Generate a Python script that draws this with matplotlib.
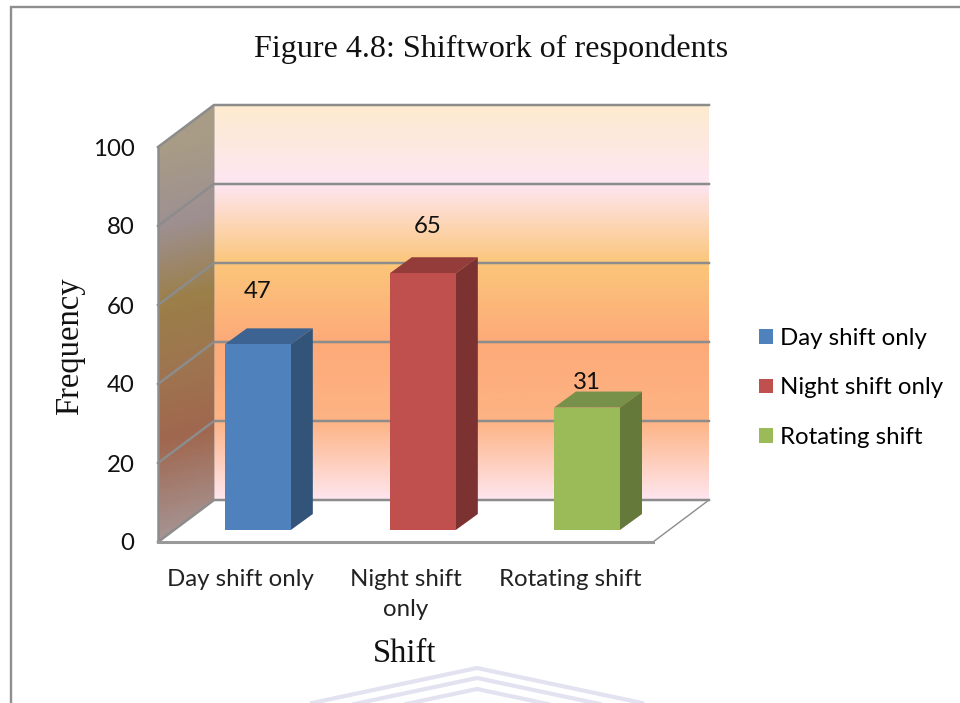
import numpy as np
import matplotlib
matplotlib.use('Agg')
import matplotlib.pyplot as plt
from matplotlib.colors import LinearSegmentedColormap
from matplotlib.patches import Polygon
from matplotlib.lines import Line2D

categories = ['Day shift only', 'Night shift\nonly', 'Rotating shift']
legend_names = ['Day shift only', 'Night shift only', 'Rotating shift']
frequency = [47, 65, 31]
y_ticks = [0, 20, 40, 60, 80, 100]

front_colors = ['#4F81BD', '#C0504D', '#9BBB59']
top_colors = ['#3C6391', '#943C3A', '#77904A']
side_colors = ['#335479', '#7C3230', '#657A3A']
label_lift = [13.3, 11.8, 6.3]
label_shift = [0.0, 0.03, 0.0]

W, H = 960, 703
# front plane of the chart box, in pixels
box_l, box_r, box_t, box_b = 158, 653, 147, 542
cat_w = (box_r - box_l) / 3
val_h = (box_b - box_t) / 100
# depth offsets in data units
dx, dy = 56 / cat_w, 42 / val_h
bar_dx, bar_dy = 22 / cat_w, 16 / val_h
bar_w = 66 / cat_w
bar_base = 12 / val_h
bar_x = [0.605, 1.605, 2.6]

serif = 'Liberation Serif'
sans = 'Lato'
sans_size = 17.3

fig = plt.figure(figsize=(W / 100, H / 100), dpi=100)
ax = fig.add_axes([box_l / W, 1 - box_b / H, (box_r - box_l) / W, (box_b - box_t) / H])
ax.set_xlim(0, 3)
ax.set_ylim(0, 100)
ax.patch.set_visible(False)
for s in ax.spines.values():
    s.set_visible(False)

wall_map = LinearSegmentedColormap.from_list('wall', [
    (0.00, '#FFE6EF'), (0.20, '#FDB384'), (0.40, '#FDAA78'),
    (0.60, '#FBC67A'), (0.80, '#FEE6F2'), (1.00, '#FDEBCF')])
side_map = LinearSegmentedColormap.from_list('side', [
    (0.00, '#A69594'), (0.25, '#A0674E'), (0.42, '#9E7450'),
    (0.60, '#9B7F48'), (0.80, '#9E9092'), (1.00, '#A89C86')])

# back wall
grad = np.linspace(0, 1, 256).reshape(-1, 1)
ax.imshow(grad, cmap=wall_map, origin='lower', aspect='auto', zorder=1,
          extent=(dx, 3 + dx, dy, 100 + dy), clip_on=False)

# side wall, the gradient runs along the wall height with some slant
xs = np.linspace(0, dx, 60)
ys = np.linspace(0, 100 + dy, 300)
gx, gy = np.meshgrid(xs, ys)
side_t = np.clip((gy - gx / dx * dy * 0.35) / 100, 0, 1)
side_im = ax.imshow(side_t, cmap=side_map, origin='lower', aspect='auto', zorder=1,
                    extent=(0, dx, 0, 100 + dy))
side_poly = Polygon([(0, 0), (dx, dy), (dx, 100 + dy), (0, 100)], closed=True,
                    transform=ax.transData, fc='none', ec='none', clip_on=False)
ax.add_patch(side_poly)
side_im.set_clip_box(fig.bbox)
side_im.set_clip_path(side_poly)

# floor
ax.add_patch(Polygon([(0, 0), (3, 0), (3 + dx, dy), (dx, dy)], closed=True, fc='white',
                     ec='none', zorder=1.5, clip_on=False))

grid = '#8C8C8C'
for v in y_ticks:
    ax.plot([0, dx, 3 + dx], [v, v + dy, v + dy], color=grid, lw=1.8, zorder=2,
            clip_on=False, solid_joinstyle='miter')
ax.plot([0, 0], [0, 100], color=grid, lw=1.8, zorder=2, clip_on=False)
ax.plot([dx, dx], [dy, 100 + dy], color=grid, lw=0.6, alpha=0.5, zorder=2, clip_on=False)
ax.plot([3, 3 + dx], [0, dy], color=grid, lw=1.0, zorder=2, clip_on=False)
ax.plot([0, 3], [0, 0], color='#999999', lw=2.2, zorder=2, clip_on=False)

# bars
bars = ax.bar(bar_x, frequency, width=bar_w, bottom=bar_base, color=front_colors, zorder=4)
for x, v, ct, cs in zip(bar_x, frequency, top_colors, side_colors):
    l, r = x - bar_w / 2, x + bar_w / 2
    b, t = bar_base, bar_base + v
    ax.add_patch(Polygon([(l, t), (r, t), (r + bar_dx, t + bar_dy), (l + bar_dx, t + bar_dy)],
                         closed=True, fc=ct, ec='none', zorder=3.5))
    ax.add_patch(Polygon([(r, b), (r + bar_dx, b + bar_dy), (r + bar_dx, t + bar_dy), (r, t)],
                         closed=True, fc=cs, ec='none', zorder=3.5))

for x, v, lift, shift in zip(bar_x, frequency, label_lift, label_shift):
    ax.text(x + shift, bar_base + v + lift, str(v), ha='center', va='center',
            fontsize=sans_size, family=sans, color='#111111', zorder=6)

ax.set_yticks(y_ticks)
ax.set_xticks([0.5, 1.5, 2.5])
ax.set_xticklabels(categories, linespacing=1.5)
ax.tick_params(axis='y', length=0, pad=17, labelsize=sans_size, labelcolor='#111111')
ax.tick_params(axis='x', length=0, pad=19.5, labelsize=sans_size, labelcolor='#222222')
for lab in ax.get_xticklabels() + ax.get_yticklabels():
    lab.set_family(sans)

ax.set_xlabel('Shift', family=serif, fontsize=23.5, color='#111111')
ax.xaxis.set_label_coords((405 - box_l) / (box_r - box_l), (box_b - 638) / (box_b - box_t))
ax.set_ylabel('Frequency', family=serif, fontsize=23.5, color='#111111')
ax.yaxis.set_label_coords((85 - box_l) / (box_r - box_l), (box_b - 346) / (box_b - box_t))

fig.text(491 / W, 1 - 49 / H, 'Figure 4.8: Shiftwork of respondents', family=serif,
         fontsize=23.1, ha='center', va='center', color='#111111')

ax.legend(bars, legend_names, loc='center left', frameon=False,
          prop={'family': sans, 'size': sans_size}, labelspacing=1.18, handlelength=0.58,
          handleheight=0.58, handletextpad=0.3, borderpad=0, borderaxespad=0,
          bbox_to_anchor=(759 / W, 1 - 388 / H), bbox_transform=fig.transFigure)

# outer frame and the faint watermark at the bottom of the page
to_fig = fig.transFigure
fig.add_artist(Line2D([10.5 / W, 10.5 / W, 1], [0, 1 - 7 / H, 1 - 7 / H],
                      color='#8E8E8E', lw=1.7, transform=to_fig, solid_joinstyle='miter'))
for apex, side in [(668, 703), (678, 713), (689, 724)]:
    fig.add_artist(Line2D([(477 - 165) / W, 477 / W, (477 + 165) / W],
                          [1 - side / H, 1 - apex / H, 1 - side / H],
                          color='#E2E2F0', lw=3, transform=to_fig))

fig.savefig('out.png', dpi=100)
